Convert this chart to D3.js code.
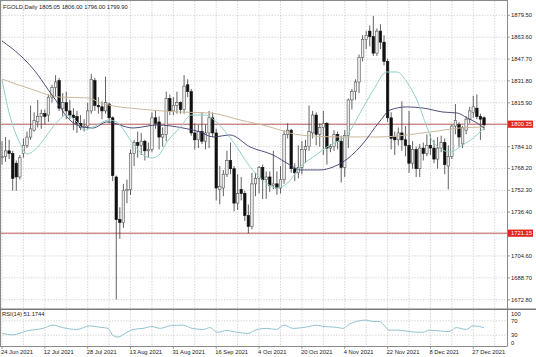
<!DOCTYPE html>
<html><head><meta charset="utf-8">
<script src="https://cdn.jsdelivr.net/npm/d3@7"></script>
<style>
body{margin:0;background:#fff}
svg{display:block}
text{font-family:"Liberation Sans",Arial,sans-serif;font-size:5.8px;fill:#1a1a1a}
</style></head>
<body><svg id="c" width="536" height="357"></svg>
<script>
// ---------- data ----------
const symbol = "FGOLD,Daily";
const opens = [1776,1777,1781,1779,1772,1762,1779,1785,1791,1796,1802,1806,1808,1807,1820,1827,1832,1812,1816,1810,1807,1806,1801,1798,1799,1810,1832,1814,1813,1810,1815,1805,1762,1731,1729,1752,1753,1779,1787,1785,1788,1781,1782,1805,1802,1791,1793,1819,1810,1814,1816,1811,1829,1824,1794,1789,1795,1788,1794,1805,1794,1753,1754,1764,1774,1768,1743,1753,1750,1734,1726,1757,1761,1769,1760,1762,1756,1757,1754,1760,1793,1796,1768,1765,1769,1782,1784,1794,1807,1793,1798,1801,1783,1784,1793,1788,1769,1792,1818,1824,1831,1849,1862,1868,1864,1852,1868,1860,1846,1805,1791,1789,1794,1789,1785,1772,1782,1768,1783,1779,1785,1783,1775,1783,1787,1770,1777,1799,1800,1786,1796,1804,1809,1812,1806,1805.05];
const highs = [1788,1791,1789,1781,1774,1778,1790,1795,1814,1809,1818,1811,1811,1822,1829,1836,1834,1823,1824,1818,1812,1810,1807,1804,1816,1837,1834,1820,1817,1835,1816,1806,1763,1740,1757,1760,1782,1789,1795,1794,1789,1787,1809,1810,1806,1798,1824,1822,1820,1824,1817,1836,1833,1826,1801,1800,1809,1800,1810,1809,1797,1770,1767,1781,1787,1770,1764,1762,1752,1742,1765,1765,1770,1771,1766,1766,1781,1766,1770,1796,1801,1797,1772,1785,1788,1789,1814,1810,1809,1801,1810,1802,1786,1796,1795,1792,1796,1819,1826,1833,1851,1865,1868,1872,1879,1870,1873,1865,1848,1809,1795,1798,1817,1799,1810,1788,1784,1786,1787,1793,1793,1789,1791,1792,1790,1785,1800,1815,1802,1799,1806,1813,1821,1822,1808,1806];
const lows = [1771,1773,1775,1752,1752,1760,1776,1783,1789,1795,1798,1797,1800,1802,1816,1820,1810,1806,1804,1804,1796,1794,1796,1795,1797,1808,1810,1808,1804,1808,1801,1759,1673,1717,1725,1743,1749,1770,1776,1778,1774,1776,1780,1797,1782,1784,1788,1807,1807,1808,1808,1808,1820,1792,1782,1783,1786,1782,1783,1791,1745,1742,1748,1762,1764,1737,1738,1745,1730,1721,1724,1748,1750,1746,1746,1751,1753,1749,1750,1757,1790,1765,1759,1761,1764,1772,1781,1790,1785,1784,1778,1771,1780,1781,1782,1758,1762,1783,1811,1818,1823,1846,1855,1857,1850,1850,1855,1843,1802,1782,1778,1785,1781,1777,1765,1768,1762,1762,1774,1777,1778,1772,1768,1780,1764,1753,1775,1793,1784,1783,1793,1801,1805,1804,1789,1796];
const closes = [1777,1781,1779,1761,1762,1776,1785,1791,1797,1803,1806,1808,1806,1820,1827,1831,1812,1816,1810,1807,1805,1801,1798,1799,1810,1833,1814,1813,1810,1816,1805,1763,1731,1729,1752,1753,1779,1787,1785,1788,1781,1782,1805,1801,1791,1793,1819,1810,1814,1816,1811,1828,1824,1794,1789,1795,1788,1794,1805,1794,1754,1755,1764,1774,1768,1743,1750,1750,1734,1726,1757,1761,1769,1760,1762,1756,1757,1754,1760,1793,1796,1768,1765,1769,1782,1784,1795,1807,1793,1798,1801,1783,1784,1793,1788,1769,1792,1818,1824,1831,1849,1862,1865,1864,1852,1868,1860,1846,1805,1790,1789,1794,1789,1785,1772,1782,1768,1783,1779,1785,1783,1775,1783,1787,1771,1777,1799,1803,1791,1798,1804,1810,1813,1806,1804,1799.90];

// moving averages and RSI, sampled as [bar index, value]
const maFast = [[0,1832.5],[2,1808.5],[5,1786.7],[7,1778.7],[10,1783.8],[13,1794],[16,1803.4],[18,1807],[21,1802],[23,1796.1],[25.5,1798.3],[30,1803.4],[32,1802],[37,1785.2],[39.5,1778],[42,1775.8],[44,1778],[46,1786.7],[50,1798.3],[53,1807],[57,1807],[60,1802],[65,1786.7],[69.5,1769.3],[73,1759.8],[77,1754],[80,1757.6],[83.5,1769.3],[88,1778],[91,1783.8],[94.7,1788.9],[96.6,1792.5],[100.3,1808.5],[104,1825.2],[107.8,1838.3],[110.6,1838.3],[113.4,1831],[116.2,1817.9],[119,1798.3],[120.7,1787.4],[125.5,1780.2],[129,1785.2],[132,1790.3],[135,1797.6]];
const maMid = [[0,1860.8],[5,1850.6],[9,1839.7],[13,1825.2],[15.4,1816.5],[18.2,1805.6],[22.7,1798.3],[25.5,1797.6],[29.4,1802],[36.7,1797.6],[43.4,1799.8],[50.7,1797.6],[55.5,1794.7],[59.1,1791.1],[63.9,1792.5],[69.5,1783.8],[75.9,1778],[80.7,1770.7],[83.5,1767.1],[89.1,1767.1],[92.7,1769.2],[95.5,1772.9],[100.3,1783.8],[105.9,1802.7],[108.7,1810.7],[113.4,1812.9],[117.9,1812.1],[123.5,1809.2],[127.5,1808.5],[130.3,1804.9],[133.1,1801.2],[135,1797.6]];
const maSlow = [[0,1833.2],[8,1826],[16.2,1820.1],[24.6,1819.4],[27.5,1815.8],[41.5,1810.7],[49.9,1809.2],[58.3,1808.5],[66.7,1803.4],[75.1,1798.3],[77.9,1796.1],[83.5,1792.5],[94.7,1791.1],[105.9,1791.1],[119.9,1794.7],[128.3,1797.6],[135,1798.3]];
const rsi = [[0,35],[3,31],[7,42],[11.5,49],[14.3,58],[17,51],[21,46],[24.6,56],[27.5,52],[29.7,49],[31.1,29],[32.5,25],[34.5,35],[36.7,46],[39.5,49],[42,54],[44.3,49],[47,56],[50.7,58],[53.2,49],[56.3,46],[58.3,51],[60.2,38],[63,43],[65.8,38],[68.9,35],[71.4,46],[74.2,49],[76.8,46],[79,58],[81.5,49],[86,54],[88,58],[90.2,54],[93.6,52],[95.5,49],[97.2,60],[102,72],[104,68],[105.6,68],[107,58],[108.4,44],[111.2,44],[114,40],[117.9,38],[119.6,44],[122.4,42],[125.2,40],[127.2,51],[130,46],[132,56],[135,51.17]];
const rsiValue = "51.1744";

const priceTicks = [1879.50,1863.60,1847.70,1831.80,1815.90,1800.00,1784.10,1768.20,1752.30,1736.40,1720.50,1704.60,1688.70,1672.80];
const hiddenTicks = [1800.00,1720.50];
const levels = [1800.35,1721.15];
const dateLabels = ["24 Jun 2021","12 Jul 2021","28 Jul 2021","13 Aug 2021","31 Aug 2021","16 Sep 2021","4 Oct 2021","20 Oct 2021","4 Nov 2021","22 Nov 2021","8 Dec 2021","27 Dec 2021"];
const dateLabelBars = [0,12,24,36,48,60,72,84,96,108,120,132];
const rsiTicks = [100,70,30,0];

// ---------- layout ----------
const svg = d3.select("#c");
const plotR = 507.5, mainTop = 1, mainBot = 308.5, rsiTop = 310, rsiBot = 346;
const x = d3.scaleLinear().domain([0,135]).range([2,484]);
const y = d3.scaleLinear().domain([1672.8,1879.5]).range([299.7,15.3]);
const yr = d3.scaleLinear().domain([0,100]).range([rsiBot,rsiTop]);
const fmt = d3.format(".2f");

const defs = svg.append("defs");
defs.append("clipPath").attr("id","mainclip").append("rect").attr("x",0).attr("y",mainTop).attr("width",plotR).attr("height",mainBot-mainTop);
defs.append("clipPath").attr("id","rsiclip").append("rect").attr("x",0).attr("y",rsiTop).attr("width",plotR).attr("height",rsiBot-rsiTop);

const gridCol = "#c4c4c4";
const vBars = d3.range(0,139,6);
svg.append("g").selectAll("line").data(vBars).join("line")
  .attr("x1",d=>x(d)).attr("x2",d=>x(d)).attr("y1",mainTop).attr("y2",mainBot)
  .attr("stroke",gridCol).attr("stroke-width",0.7).attr("stroke-dasharray","1.4,1.4");
svg.append("g").selectAll("line").data(vBars).join("line")
  .attr("x1",d=>x(d)).attr("x2",d=>x(d)).attr("y1",rsiTop).attr("y2",rsiBot)
  .attr("stroke",gridCol).attr("stroke-width",0.7).attr("stroke-dasharray","1.4,1.4");
svg.append("g").selectAll("line").data(priceTicks).join("line")
  .attr("x1",0).attr("x2",plotR).attr("y1",d=>y(d)).attr("y2",d=>y(d))
  .attr("stroke",gridCol).attr("stroke-width",0.7).attr("stroke-dasharray","1.4,1.4");
svg.append("g").selectAll("line").data([70,30]).join("line")
  .attr("x1",0).attr("x2",plotR).attr("y1",d=>yr(d)).attr("y2",d=>yr(d))
  .attr("stroke",gridCol).attr("stroke-width",0.7).attr("stroke-dasharray","1.4,1.4");

// level lines
svg.append("g").selectAll("line").data(levels).join("line")
  .attr("x1",0).attr("x2",plotR).attr("y1",d=>y(d)).attr("y2",d=>y(d))
  .attr("stroke","#b84a4a").attr("stroke-width",0.9);

// candles
const bars = d3.range(opens.length).map(i=>({i,o:opens[i],h:highs[i],l:lows[i],c:closes[i]}));
const cg = svg.append("g").attr("clip-path","url(#mainclip)");
cg.selectAll("line.w").data(bars).join("line").attr("class","w")
  .attr("x1",d=>x(d.i)).attr("x2",d=>x(d.i)).attr("y1",d=>y(d.h)).attr("y2",d=>y(d.l))
  .attr("stroke","#3a3a3a").attr("stroke-width",0.8);
const bw = 2.5;
cg.selectAll("rect.b").data(bars).join("rect").attr("class","b")
  .attr("x",d=>x(d.i)-bw/2).attr("width",bw)
  .attr("y",d=>y(Math.max(d.o,d.c)))
  .attr("height",d=>Math.max(0.8,Math.abs(y(d.o)-y(d.c))))
  .attr("fill",d=>d.c>=d.o?"#ececec":"#111")
  .attr("stroke",d=>d.c>=d.o?"#555":"#111").attr("stroke-width",0.6);

// moving averages
const line = d3.line().x(d=>x(d[0])).y(d=>y(d[1])).curve(d3.curveMonotoneX);
cg.append("path").attr("d",line(maSlow)).attr("fill","none").attr("stroke","#c9b89a").attr("stroke-width",1);
cg.append("path").attr("d",line(maMid)).attr("fill","none").attr("stroke","#3c3c6e").attr("stroke-width",0.9);
cg.append("path").attr("d",line(maFast)).attr("fill","none").attr("stroke","#93cfc6").attr("stroke-width",1);

// RSI
const rline = d3.line().x(d=>x(d[0])).y(d=>yr(d[1])).curve(d3.curveMonotoneX);
svg.append("path").attr("clip-path","url(#rsiclip)").attr("d",rline(rsi)).attr("fill","none").attr("stroke","#86bccb").attr("stroke-width",0.9);

// frames
svg.append("line").attr("x1",0.5).attr("x2",0.5).attr("y1",0).attr("y2",rsiBot).attr("stroke","#8a8a8a").attr("stroke-width",1);
svg.append("line").attr("x1",0).attr("x2",plotR).attr("y1",0.5).attr("y2",0.5).attr("stroke","#8a8a8a").attr("stroke-width",1);
svg.append("line").attr("x1",plotR).attr("x2",plotR).attr("y1",0).attr("y2",rsiBot).attr("stroke","#8a8a8a").attr("stroke-width",1);
svg.append("rect").attr("x",0).attr("y",mainBot).attr("width",536).attr("height",rsiTop-mainBot).attr("fill","#7a7a7a");
svg.append("line").attr("x1",0).attr("x2",plotR).attr("y1",rsiBot+0.5).attr("y2",rsiBot+0.5).attr("stroke","#8a8a8a").attr("stroke-width",1);

// right axis labels
const axR = svg.append("g");
const shownTicks = priceTicks.filter(t=>!hiddenTicks.includes(t));
axR.selectAll("line").data(priceTicks).join("line")
  .attr("x1",plotR).attr("x2",plotR+2.5).attr("y1",d=>y(d)).attr("y2",d=>y(d)).attr("stroke","#777").attr("stroke-width",0.7);
axR.selectAll("text").data(shownTicks).join("text")
  .attr("x",511).attr("y",d=>y(d)).attr("dy","0.35em").text(d=>fmt(d));
const lv = svg.append("g").selectAll("g").data(levels).join("g");
lv.append("rect").attr("x",plotR+0.5).attr("y",d=>y(d)-3.6).attr("width",25).attr("height",7.2).attr("fill","#e2261e");
lv.append("text").attr("x",511).attr("y",d=>y(d)).attr("dy","0.35em").style("fill","#fff").text(d=>fmt(d));

// RSI axis
svg.append("g").selectAll("text").data(rsiTicks).join("text")
  .attr("x",511).attr("y",d=>Math.min(342.7,Math.max(314,yr(d)))).attr("dy","0.35em").text(d=>d);

// date axis
const da = svg.append("g");
da.selectAll("line").data(dateLabelBars).join("line")
  .attr("x1",d=>x(d)).attr("x2",d=>x(d)).attr("y1",rsiBot).attr("y2",rsiBot+3).attr("stroke","#777").attr("stroke-width",0.7);
da.selectAll("text").data(dateLabels).join("text")
  .attr("x",(d,i)=>x(dateLabelBars[i])-1).attr("y",352).attr("dy","0.35em").text(d=>d);

// titles
const last = bars[bars.length-1];
svg.append("text").attr("x",3).attr("y",6.5).attr("dy","0.35em")
  .text(symbol+"  "+[last.o,last.h,last.l,last.c].map(fmt).join(" "));
svg.append("text").attr("x",2).attr("y",314).attr("dy","0.35em").text("RSI(14) "+rsiValue);
</script></body></html>
